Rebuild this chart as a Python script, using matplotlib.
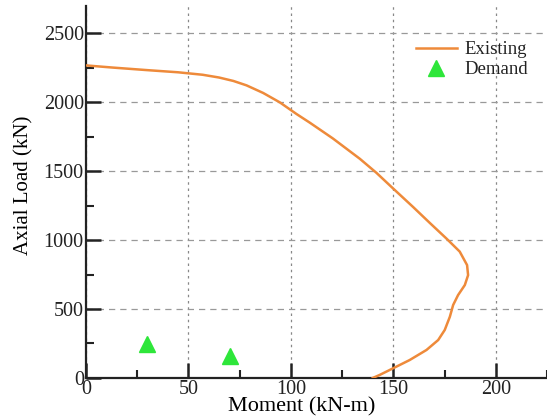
#!/usr/bin/env python3

import matplotlib
matplotlib.use('Agg')
import matplotlib.pyplot as plt
from matplotlib.ticker import MultipleLocator

# Existing capacity curve (moment, axial load)
existing_moment = [0, 13.3, 29.6, 45.0, 57.0, 65.0, 72.0, 78.4, 86.5, 94.6,
                   102.8, 109.3, 120.5, 133.7, 141.8, 149.9, 159.7, 167.8,
                   175.9, 182.4, 186.0, 186.5, 184.9, 181.6, 179.2, 177.6,
                   175.1, 171.9, 166.2, 158.0, 149.9, 143.4, 140.0]
existing_load = [2268, 2252, 2234, 2218, 2200, 2180, 2155, 2123, 2068, 2000,
                 1915, 1852, 1738, 1590, 1488, 1375, 1240, 1125,
                 1012, 917, 819, 746, 674, 601, 529, 444,
                 348, 275, 203, 130, 70, 22, 0]

# Demand points
demand_moment = [30, 70.5]
demand_load = [245, 160]

x_ticks = [0, 50, 100, 150, 200]
y_ticks = [0, 500, 1000, 1500, 2000, 2500]


def plot_interaction():
    plt.rcParams['font.family'] = ['Liberation Serif', 'DejaVu Serif']
    plt.rcParams['text.color'] = '#222222'

    fig = plt.figure(figsize=(5.47, 4.19), dpi=100)
    ax = fig.add_axes([0.157, 0.098, 0.843, 0.888])

    ax.plot(existing_moment, existing_load, color='#ee8a3a', lw=1.8,
            label='Existing', zorder=3, solid_joinstyle='round')
    ax.plot(demand_moment, demand_load, ls='none', marker='^', ms=11,
            color='#2ee63a', label='Demand', zorder=4)

    ax.set_xlim(0, 225)
    ax.set_ylim(0, 2700)
    ax.set_xticks(x_ticks)
    ax.set_yticks(y_ticks)
    ax.xaxis.set_minor_locator(MultipleLocator(25))
    ax.yaxis.set_minor_locator(MultipleLocator(250))

    for side in ['top', 'right']:
        ax.spines[side].set_visible(False)
    for side in ['left', 'bottom']:
        ax.spines[side].set_linewidth(1.6)
        ax.spines[side].set_color('#222222')

    ax.tick_params(which='major', direction='in', length=11, width=1.8,
                   color='#222222', labelsize=14.5, labelcolor='#222222', pad=1.5)
    ax.tick_params(which='minor', direction='in', length=6, width=1.5,
                   color='#222222')

    ax.xaxis.grid(True, which='major', ls=(0, (2, 3)), color='#888888', lw=0.9)
    ax.yaxis.grid(True, which='major', ls=(0, (5, 4)), color='#999999', lw=0.9)
    ax.set_axisbelow(True)

    ax.set_xlabel('Moment (kN-m)', fontsize=16)
    ax.set_ylabel('Axial Load (kN)', fontsize=15)
    ax.xaxis.set_label_coords(0.468, -0.051)
    ax.yaxis.set_label_coords(-0.113, 0.519)

    ax.legend(loc='upper right', bbox_to_anchor=(0.975, 0.925), frameon=False,
              fontsize=13.5, handlelength=2.2, handletextpad=0.4,
              labelspacing=0.15, borderaxespad=0)

    fig.savefig('out.png', dpi=100)


if __name__ == '__main__':
    plot_interaction()
